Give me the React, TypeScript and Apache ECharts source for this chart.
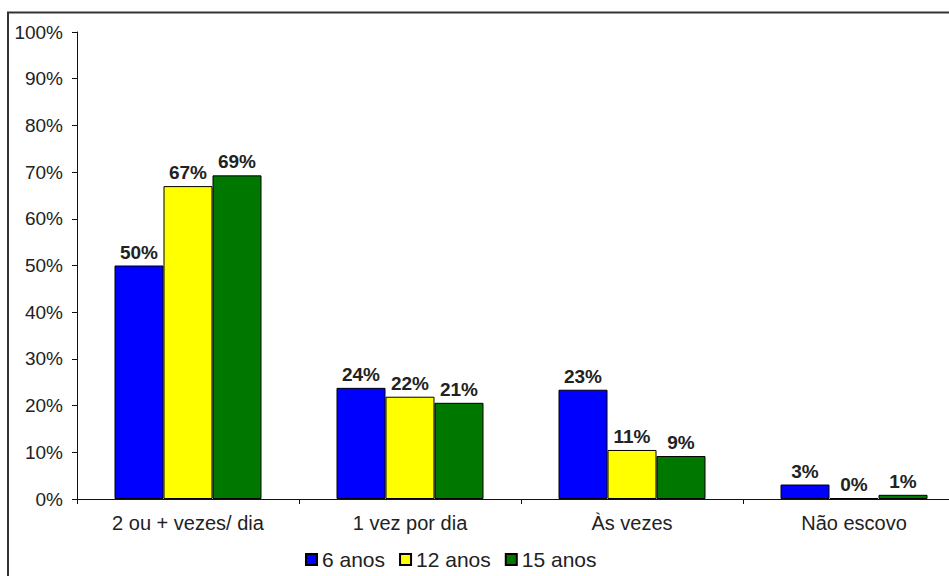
import React, { useEffect, useRef } from "react";
import * as echarts from "echarts";

const categories = ["2 ou + vezes/ dia", "1 vez por dia", "Às vezes", "Não escovo"];
const seriesNames = ["6 anos", "12 anos", "15 anos"];
const anos6 = [50, 23.8, 23.4, 3.1];
const anos12 = [67, 21.9, 10.5, 0.2];
const anos15 = [69.3, 20.6, 9.2, 0.9];
const colors = ["#0000FF", "#FFFF00", "#007800"];
const yTicks = { min: 0, max: 100, interval: 10 };

const FONT = "'Liberation Sans', Arial, sans-serif";

export default function App() {
  const ref = useRef<HTMLDivElement>(null);
  useEffect(() => {
    if (!ref.current) return;
    const chart = echarts.init(ref.current, undefined, { renderer: "svg" });
    const data = [anos6, anos12, anos15];
    chart.setOption({
      animation: false,
      backgroundColor: "#ffffff",
      textStyle: { fontFamily: FONT },
      graphic: [
        {
          type: "rect",
          shape: { x: 8, y: 12.5, width: 1100, height: 1000 },
          style: { fill: "none", stroke: "#333", lineWidth: 2 },
          silent: true,
        },
      ],
      grid: { left: 77, top: 32, width: 888, height: 467 },
      legend: {
        data: seriesNames,
        left: 305,
        top: 549,
        padding: 0,
        icon: "rect",
        itemWidth: 11,
        itemHeight: 11,
        itemGap: 14,
        textStyle: { fontSize: 21, color: "#222", fontFamily: FONT },
      },
      xAxis: {
        type: "category",
        data: categories,
        boundaryGap: true,
        axisLine: { lineStyle: { color: "#111", width: 1 } },
        axisTick: { show: true, length: 5, inside: false, lineStyle: { color: "#111" } },
        axisLabel: { fontSize: 20, color: "#222", margin: 14, fontFamily: FONT },
      },
      yAxis: {
        type: "value",
        min: yTicks.min,
        max: yTicks.max,
        interval: yTicks.interval,
        axisLine: { show: true, lineStyle: { color: "#111", width: 1 } },
        axisTick: { show: true, length: 5, lineStyle: { color: "#111" } },
        splitLine: { show: false },
        axisLabel: { formatter: "{value}%", fontSize: 19, color: "#222", margin: 14, fontFamily: FONT },
      },
      series: seriesNames.map((name, i) => ({
        name,
        type: "bar",
        data: data[i],
        barWidth: 49,
        barGap: "0%",
        itemStyle: { color: colors[i], borderColor: "#000", borderWidth: 1 },
        label: {
          show: true,
          position: "top",
          distance: 4,
          formatter: (p: any) => Math.round(p.value) + "%",
          fontSize: 19,
          fontWeight: "bold",
          color: "#222",
          fontFamily: FONT,
        },
      })),
    });
    return () => chart.dispose();
  }, []);
  return (
    <div
      style={{
        position: "fixed",
        left: 0,
        top: 0,
        width: 949,
        height: 576,
        overflow: "hidden",
        background: "#fff",
      }}
    >
      <div ref={ref} style={{ width: 1000, height: 576 }} />
    </div>
  );
}
